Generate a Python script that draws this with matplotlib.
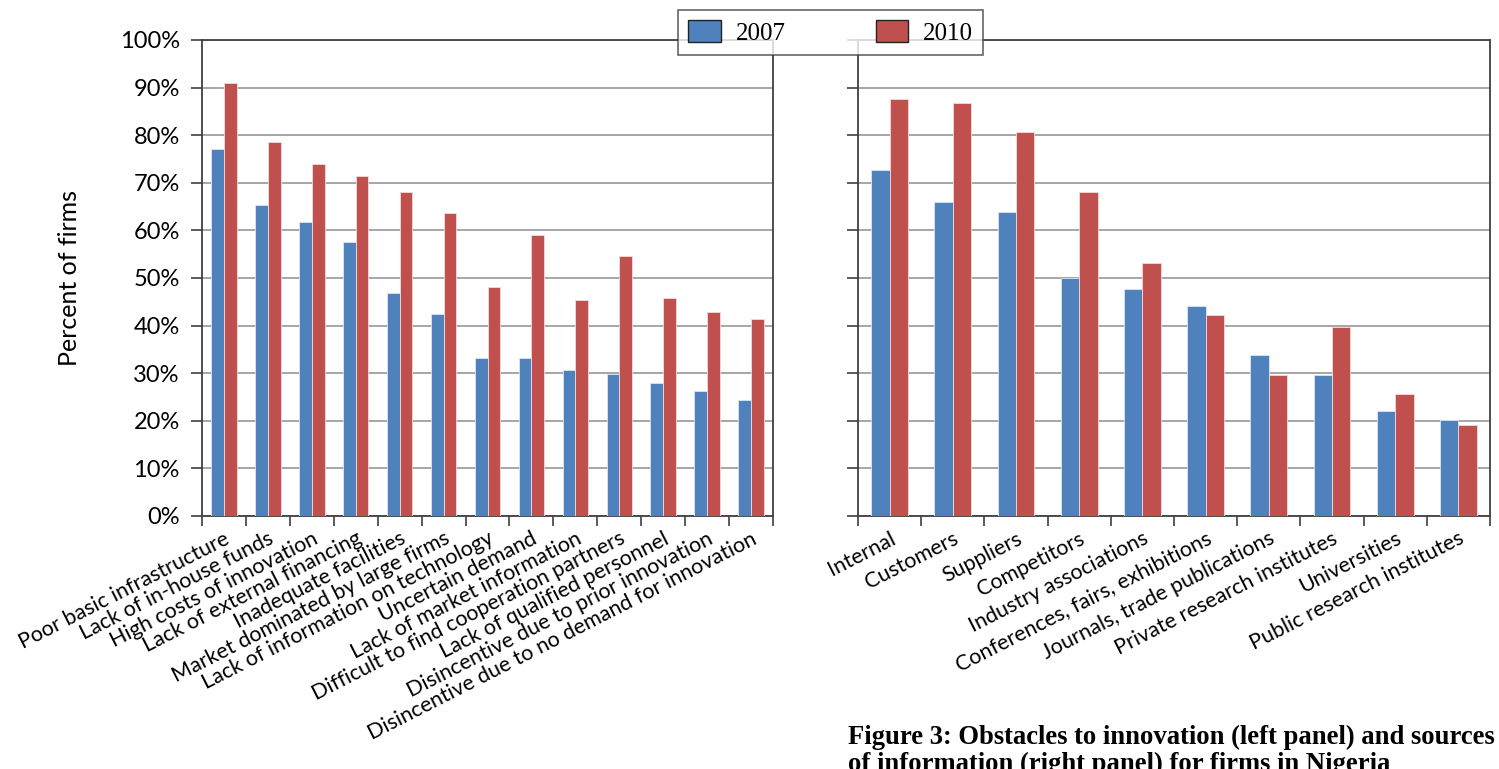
import matplotlib.pyplot as plt
import numpy as np

obstacles = ["Poor basic infrastructure", "Lack of in-house funds", "High costs of innovation",
             "Lack of external financing", "Inadequate facilities", "Market dominated by large firms",
             "Lack of information on technology", "Uncertain demand", "Lack of market information",
             "Difficult to find cooperation partners", "Lack of qualified personnel",
             "Disincentive due to prior innovation", "Disincentive due to no demand for innovation"]
obst_2007 = [77.0, 65.3, 61.8, 57.6, 46.8, 42.4, 33.1, 33.1, 30.6, 29.8, 27.9, 26.3, 24.4]
obst_2010 = [90.9, 78.5, 74.0, 71.5, 68.0, 63.7, 48.1, 59.0, 45.4, 54.6, 45.7, 42.8, 41.4]

sources = ["Internal", "Customers", "Suppliers", "Competitors", "Industry associations",
           "Conferences, fairs, exhibitions", "Journals, trade publications",
           "Private research institutes", "Universities", "Public research institutes"]
src_2007 = [72.7, 65.9, 63.8, 50.1, 47.6, 44.1, 33.9, 29.6, 22.0, 20.2]
src_2010 = [87.7, 86.7, 80.7, 68.0, 53.1, 42.2, 29.6, 39.8, 25.6, 19.1]

years = ["2007", "2010"]
blue = "#4F81BD"
red = "#C0504D"

plt.rcParams['font.family'] = ['Lato', 'DejaVu Sans']

fig = plt.figure(figsize=(14.99, 7.69), dpi=100)
ax1 = fig.add_axes([202 / 1499, 1 - 516 / 769, 571 / 1499, 476 / 769])
ax2 = fig.add_axes([858 / 1499, 1 - 516 / 769, 632 / 1499, 476 / 769])


def draw(ax, cats, v1, v2, show_labels):
    x = np.arange(len(cats))
    w = 0.29
    ax.bar(x - w / 2, v1, w, color=blue, edgecolor="#dce6f2", linewidth=0.6, zorder=3, label=years[0])
    ax.bar(x + w / 2, v2, w, color=red, edgecolor="#f2dcdb", linewidth=0.6, zorder=3, label=years[1])
    ax.set_xlim(-0.5, len(cats) - 0.5)
    ax.set_ylim(0, 100)
    ax.set_yticks(np.arange(0, 101, 10))
    ax.yaxis.grid(True, color="#a6a6a6", linewidth=1.4, zorder=0)
    ax.set_axisbelow(True)
    # labels sit under the bars, tick marks between categories
    ax.set_xticks(x)
    ax.set_xticks(np.arange(-0.5, len(cats), 1), minor=True)
    ax.set_xticklabels(cats, rotation=27, ha='right', va='top', rotation_mode='anchor', fontsize=15.5)
    ax.tick_params(axis='x', which='major', length=0, pad=9)
    ax.tick_params(axis='x', which='minor', length=7, width=1.2, color="#404040")
    ax.tick_params(axis='y', length=8, width=1.2, color="#404040", labelsize=17, pad=8)
    if show_labels:
        ax.set_yticklabels([f"{v}%" for v in range(0, 101, 10)])
    else:
        ax.set_yticklabels([])
    for s in ax.spines.values():
        s.set_color("#404040")
        s.set_linewidth(1.3)


draw(ax1, obstacles, obst_2007, obst_2010, True)
draw(ax2, sources, src_2007, src_2010, False)
ax1.set_ylabel("Percent of firms", fontsize=18, labelpad=28)

leg = fig.legend(*ax1.get_legend_handles_labels(), loc='upper left',
                 bbox_to_anchor=(678 / 1499, 1 - 10 / 769), ncol=2, frameon=True, fancybox=False,
                 prop={'family': 'Liberation Serif', 'size': 18}, handlelength=1.3, handleheight=1.0,
                 columnspacing=3.6, borderpad=0.4, borderaxespad=0, handletextpad=0.6)
leg.get_frame().set_edgecolor("#404040")
leg.get_frame().set_linewidth(1.2)
for p in leg.get_patches():
    p.set_edgecolor("#222222")
    p.set_linewidth(1.0)

# caption, second line runs off the bottom like the source page
fig.text(848 / 1499, 1 - 725 / 769, "Figure 3: Obstacles to innovation (left panel) and sources",
         family='Liberation Serif', weight='bold', fontsize=19.2, va='top', ha='left')
fig.text(848 / 1499, 1 - 752 / 769, "of information (right panel) for firms in Nigeria",
         family='Liberation Serif', weight='bold', fontsize=19.2, va='top', ha='left')

fig.savefig("out.png", dpi=100)
